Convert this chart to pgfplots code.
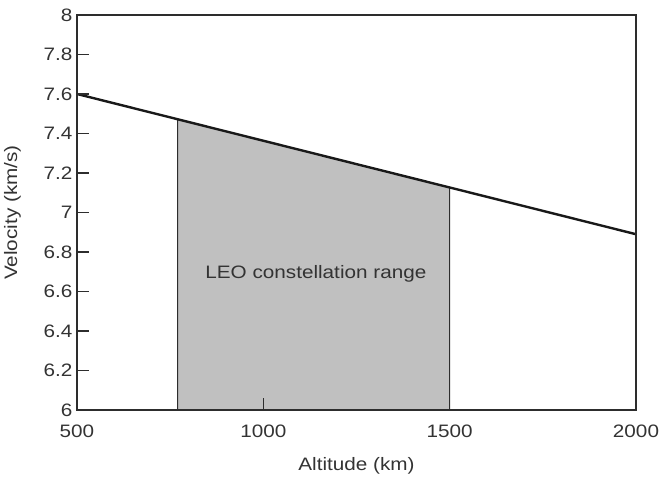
\documentclass[border=0pt]{standalone}
\usepackage{fontspec}
\setmainfont{Liberation Sans}[FakeStretch=1.15]
\usepackage{pgfplots}
\pgfplotsset{compat=1.18}
\definecolor{shade}{RGB}{192,192,192}
\definecolor{axgray}{RGB}{45,45,45}
\begin{document}
\begin{tikzpicture}
\begin{axis}[
    name=ax,
    scale only axis,
    width=559bp, height=395bp,
    xmin=500, xmax=2000,
    ymin=6, ymax=8,
    xtick={500,1000,1500,2000},
    ytick={6,6.2,6.4,6.6,6.8,7,7.2,7.4,7.6,7.8,8},
    /pgf/number format/assume math mode=true,
    /pgf/number format/set thousands separator={},
    tick align=inside,
    xtick pos=bottom, ytick pos=left,
    major tick length=12bp,
    tick style={axgray, line width=1.3pt},
    axis line style={axgray, line width=1.8pt},
    font=\fontsize{18bp}{21bp}\selectfont,
    ticklabel style={font=\fontsize{18bp}{21bp}\selectfont, text=black!80},
    xticklabel style={yshift=-11bp},
    yticklabel style={xshift=-1bp},
    xlabel={Altitude (km)},
    ylabel={Velocity (km/s)},
    xlabel style={yshift=-13bp, text=black!80},
    ylabel style={yshift=16bp, text=black!80},
    axis on top,
    clip=false,
]
% LEO constellation range (shaded band under the curve)
\addplot[fill=shade, draw=axgray, line width=1pt] coordinates {
    (770,7.472) (1500,7.127)
} \closedcycle;
% orbital velocity vs altitude
\addplot[black!90, line width=2.4pt] coordinates {
    (500,7.60) (2000,6.89)
};
\node[text=black!80] at (axis cs:1141,6.69) {LEO constellation range};
\end{axis}
\pgfresetboundingbox
\path[use as bounding box] ([shift={(-77bp,-67bp)}]ax.south west) rectangle ([shift={(23bp,15bp)}]ax.north east);
\end{tikzpicture}
\end{document}
